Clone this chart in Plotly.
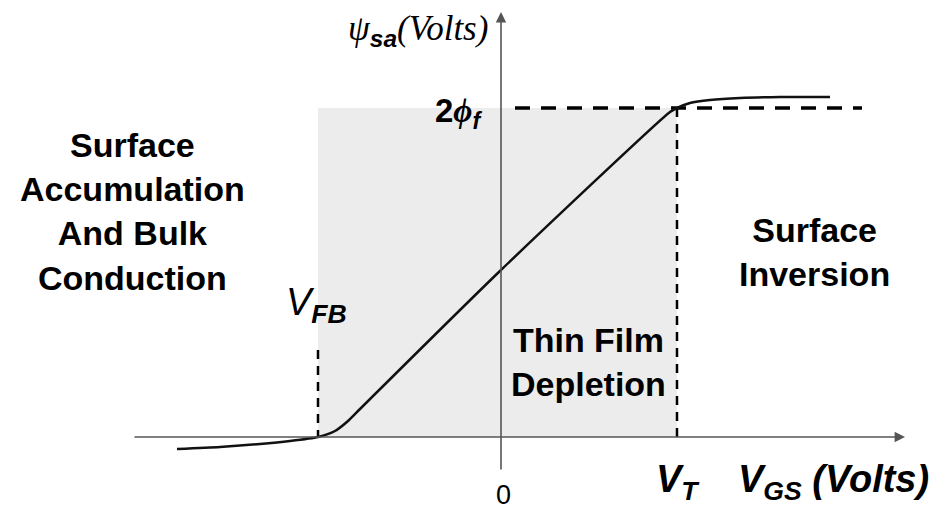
import plotly.graph_objects as go

# Surface potential vs gate voltage (schematic units)
VFB = -1.83        # flat-band voltage
VT = 1.76          # threshold voltage
PHI2F = 3.29       # 2*phi_f level

vgs = [-3.24, -2.81, -2.41, -2.11, -1.83, -1.66, -1.53, -1.41, 0.0, 1.69, 1.76, 1.89, 2.09, 2.39, 2.79, 3.29]
psi = [-0.12, -0.10, -0.07, -0.04, 0.0, 0.06, 0.16, 0.28, 1.67, 3.25, 3.29, 3.34, 3.37, 3.39, 3.40, 3.40]

region_labels = ["Surface<br>Accumulation<br>And Bulk<br>Conduction",
                 "Thin Film<br>Depletion",
                 "Surface<br>Inversion"]

SANS = "Liberation Sans"
SERIF = "Liberation Serif"
AXC = "#555555"

fig = go.Figure()

# shaded depletion window
fig.add_shape(type="rect", x0=VFB, x1=VT, y0=0, y1=PHI2F,
              fillcolor="#ececec", line_width=0, layer="below")

# dashed guide lines
fig.add_trace(go.Scatter(x=[0.14, 3.61], y=[PHI2F, PHI2F], mode="lines",
                         line=dict(color="black", width=3.5, dash="15px,11px"),
                         hoverinfo="skip"))
fig.add_trace(go.Scatter(x=[VT, VT], y=[PHI2F, 0], mode="lines",
                         line=dict(color="black", width=2.5, dash="9px,7px"),
                         hoverinfo="skip"))
fig.add_trace(go.Scatter(x=[VFB, VFB], y=[0.87, 0], mode="lines",
                         line=dict(color="black", width=2.5, dash="9px,7px"),
                         hoverinfo="skip"))

# psi_sa curve
fig.add_trace(go.Scatter(x=vgs, y=psi, mode="lines",
                         line=dict(color="#111111", width=2.5, shape="spline", smoothing=0.6),
                         hoverinfo="skip"))

# axes with arrows
fig.add_annotation(x=4.04, y=0, ax=-3.68, ay=0, xref="x", yref="y", axref="x", ayref="y",
                   text="", showarrow=True, arrowhead=2, arrowsize=1.3, arrowwidth=1.6,
                   arrowcolor=AXC)
fig.add_annotation(x=0, y=4.25, ax=0, ay=-0.34, xref="x", yref="y", axref="x", ayref="y",
                   text="", showarrow=True, arrowhead=2, arrowsize=1.3, arrowwidth=1.6,
                   arrowcolor=AXC)

def label(text, x, y, size, family=SANS, xanchor="center"):
    fig.add_annotation(x=x, y=y, xref="x", yref="y", text=text, showarrow=False,
                       xanchor=xanchor, yanchor="middle",
                       font=dict(family=family, size=size, color="black"))

label("<b>" + region_labels[0] + "</b>", -3.69, 2.26, 34)
label("<b>" + region_labels[1] + "</b>", 0.87, 0.75, 34)
label("<b>" + region_labels[2] + "</b>", 3.13, 1.85, 34)

label('<span style="font-family:Liberation Serif"><i>ψ</i></span>'
      '<sub><b><i>sa</i></b></sub>'
      '<span style="font-family:Liberation Serif"><i>(Volts)</i></span>',
      -0.11, 4.07, 35, xanchor="right")
label('<b>2</b><span style="font-family:Liberation Serif"><b><i>ϕ</i></b></span>'
      '<sub><b><i>f</i></b></sub>', -0.17, 3.24, 33, xanchor="right")
label("<i>V</i><sub><b><i>FB</i></b></sub>", -1.85, 1.32, 38)
label("<b><i>V</i></b><sub><b><i>T</i></b></sub>", 1.77, -0.45, 38)
label("<b><i>V</i></b><sub><b><i>GS</i></b></sub><b><i> (Volts)</i></b>", 3.32, -0.45, 38)
label("0", 0.02, -0.58, 27)

fig.update_layout(
    width=938, height=512,
    margin=dict(l=0, r=0, t=0, b=0),
    paper_bgcolor="white", plot_bgcolor="white",
    showlegend=False,
    xaxis=dict(range=[-5.01, 4.37], visible=False, fixedrange=True),
    yaxis=dict(range=[-0.75, 4.37], visible=False, fixedrange=True),
)

fig.write_html("out.html")
